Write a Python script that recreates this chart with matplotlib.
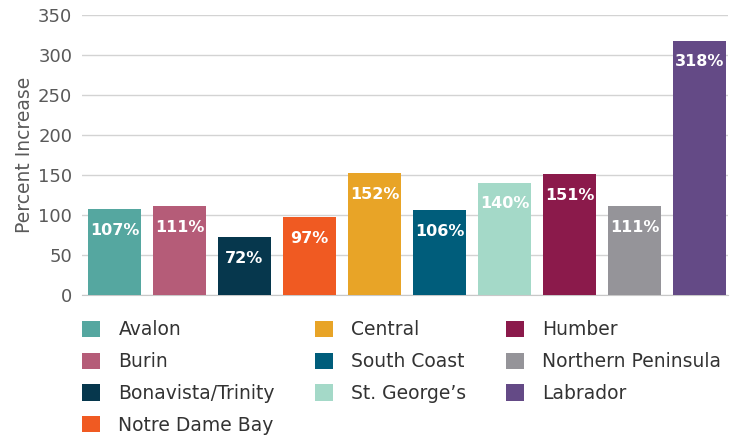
import matplotlib.pyplot as plt
from matplotlib.patches import Patch

regions = ['Avalon', 'Burin', 'Bonavista/Trinity', 'Notre Dame Bay', 'Central',
           'South Coast', 'St. George\u2019s', 'Humber', 'Northern Peninsula', 'Labrador']
increase = [107, 111, 72, 97, 152, 106, 140, 151, 111, 318]
colors = ['#55a7a0', '#b55c78', '#06374d', '#f05a22', '#e8a427',
          '#005d7b', '#a4d9c8', '#8b1a4b', '#959499', '#644a86']
yticks = [0, 50, 100, 150, 200, 250, 300, 350]

plt.rcParams['font.family'] = ['DejaVu Sans']
grey = '#595959'

fig = plt.figure(figsize=(7.48, 4.36), dpi=100)
ax = fig.add_axes([82 / 748, 1 - 295 / 436, 646 / 748, 280 / 436])

x = range(len(regions))
bars = ax.bar(x, increase, width=0.815, color=colors, zorder=3)

# value labels inside the top of each bar
for rect, v in zip(bars, increase):
    ax.annotate(f'{v}%', (rect.get_x() + rect.get_width() / 2, v),
                xytext=(0, -15), textcoords='offset points',
                ha='center', va='center', color='white',
                fontsize=11.5, fontweight='bold', zorder=4)

ax.set_xlim(-0.5, 9.44)
ax.set_ylim(0, 350)
ax.set_yticks(yticks)
ax.set_xticks([])
ax.yaxis.grid(True, color='#d3d3d3', lw=1, zorder=0)
ax.tick_params(axis='y', length=0, pad=7, labelsize=13, labelcolor=grey)
for s in ['top', 'right', 'left']:
    ax.spines[s].set_visible(False)
ax.spines['bottom'].set_color('#c8c8c8')
ax.set_ylabel('Percent Increase', fontsize=13.5, color=grey, labelpad=3)

handles = [Patch(facecolor=c, edgecolor='none') for c in colors]
fig.legend(handles, regions, ncol=3, loc='upper left',
           bbox_to_anchor=(73 / 748, 1 - 311 / 436), frameon=False, borderpad=0,
           fontsize=13.5, labelcolor='#333333', handlelength=0.96, handleheight=0.96,
           handletextpad=0.96, columnspacing=2.14, labelspacing=0.68)

fig.savefig('out.png', dpi=100)
